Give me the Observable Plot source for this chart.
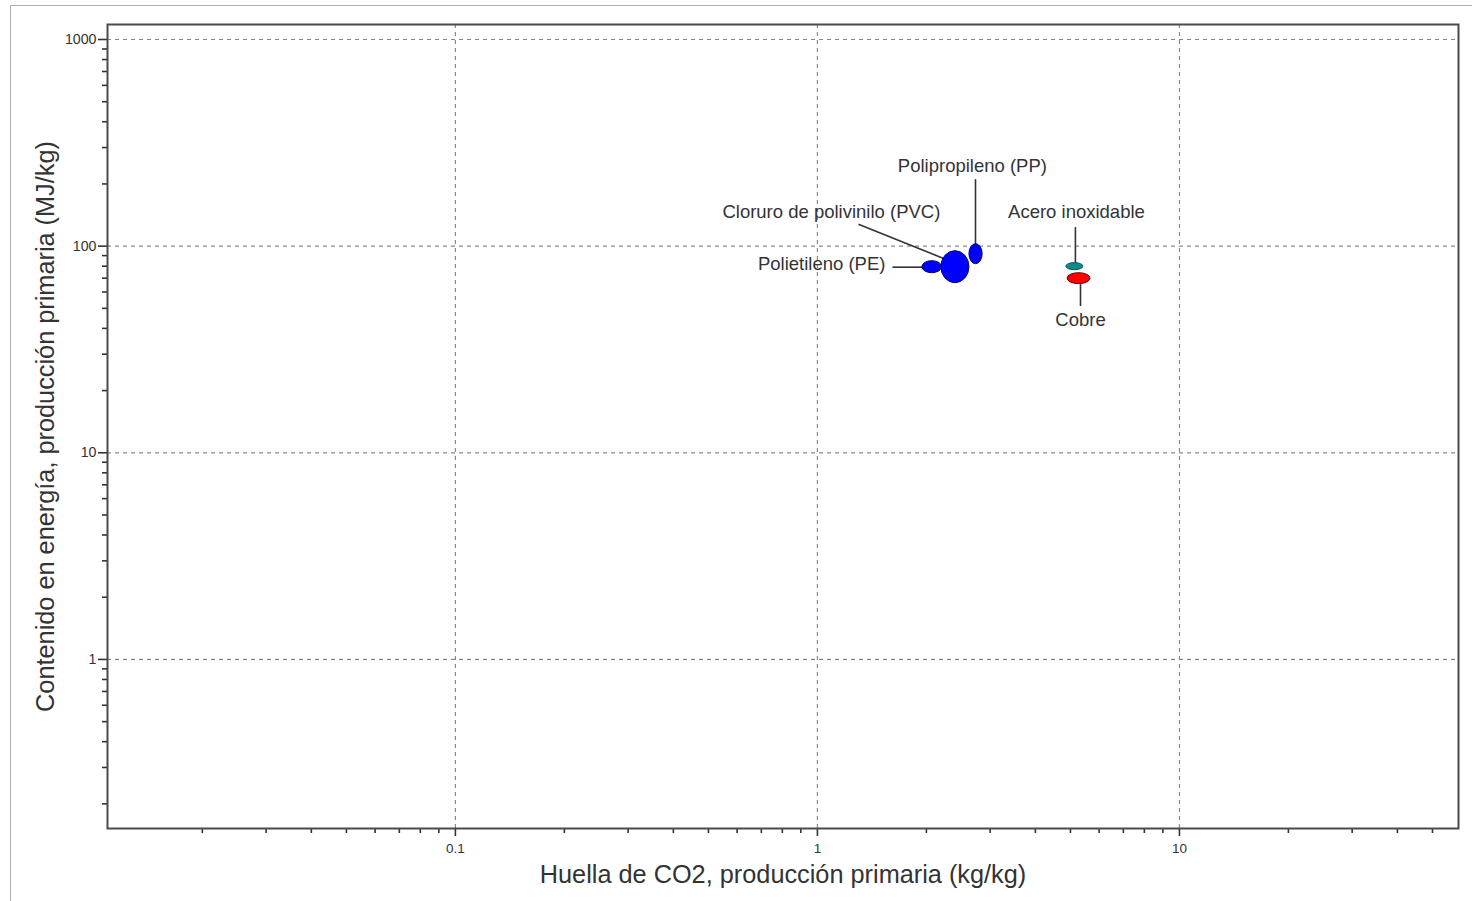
<!DOCTYPE html>
<html>
<head>
<meta charset="utf-8">
<script src="https://cdn.jsdelivr.net/npm/d3@7"></script>
<script src="https://cdn.jsdelivr.net/npm/@observablehq/plot@0.6"></script>
<style>
  html, body { margin: 0; padding: 0; background: #fff; }
  #wrap { position: relative; width: 1472px; height: 901px; overflow: hidden; }
  #border { position: absolute; left: 10px; top: 5px; width: 1480px; height: 920px;
            border-top: 1.5px solid #b0b0b0; border-left: 1.5px solid #b0b0b0; }
  #chart { position: absolute; left: 0; top: 0; }
</style>
</head>
<body>
<div id="wrap"><div id="border"></div><div id="chart"></div></div>
<script>
// ---- Data ----
const materials = ["Polietileno (PE)", "Polipropileno (PP)", "Cloruro de polivinilo (PVC)", "Acero inoxidable", "Cobre"];
const co2Min    = [1.95, 2.63, 2.20, 4.87, 4.91];
const co2Max    = [2.21, 2.86, 2.63, 5.43, 5.68];
const energyMin = [74.0, 81.8, 66.2, 76.5, 65.5];
const energyMax = [84.6, 102.2, 94.6, 82.8, 74.0];

// Label anchors and leader lines (data coordinates)
const labelX  = [1.541, 2.68, 1.093, 5.194, 5.33];
const labelY  = [81.8, 244, 146, 146, 43.8];
const leadX1  = [1.611, 2.733, 1.298, 5.16, 5.33];
const leadY1  = [79.1, 211, 127.7, 123.6, 65.5];
const leadX2  = [1.95, 2.733, 2.257, 5.16, 5.33];
const leadY2  = [79.1, 102, 86.5, 82.7, 51.3];

const xTicks = [0.1, 1, 10];
const yTicks = [1, 10, 100, 1000];
const xTickLabels = ["0.1", "1", "10"];
const yTickLabels = ["1", "10", "100", "1000"];
const xTitle = "Huella de CO2, producción primaria (kg/kg)";
const yTitle = "Contenido en energía, producción primaria (MJ/kg)";

const rows = materials.map((m, i) => ({
  material: m, x1: co2Min[i], x2: co2Max[i], y1: energyMin[i], y2: energyMax[i],
  lx: labelX[i], ly: labelY[i], ax: leadX1[i], ay: leadY1[i], bx: leadX2[i], by: leadY2[i]
}));

function minorTicks(lo, hi) {
  const out = [];
  for (let e = Math.floor(Math.log10(lo)); e <= Math.ceil(Math.log10(hi)); e++) {
    for (let k = 2; k <= 9; k++) {
      const v = k * Math.pow(10, e);
      if (v >= lo && v <= hi) out.push(v);
    }
  }
  return out;
}
const xDomain = [0.01094, 59];
const yDomain = [0.152, 1182];
const xMinor = minorTicks(...xDomain);
const yMinor = minorTicks(...yDomain);

const font = "Liberation Sans, Arial, sans-serif";
const textColor = "#333";

const fillColors = {
  "Polietileno (PE)": "#0000ff",
  "Polipropileno (PP)": "#0000ff",
  "Cloruro de polivinilo (PVC)": "#0000ff",
  "Acero inoxidable": "#108a88",
  "Cobre": "#ff0000"
};
const strokeColors = {
  "Polietileno (PE)": "#000070",
  "Polipropileno (PP)": "#000070",
  "Cloruro de polivinilo (PVC)": "#000070",
  "Acero inoxidable": "#0a5a58",
  "Cobre": "#600000"
};

const plot = Plot.plot({
  width: 1472,
  height: 901,
  marginLeft: 107,
  marginRight: 14,
  marginTop: 24,
  marginBottom: 73,
  style: { fontFamily: font, background: "transparent", color: textColor },
  x: { type: "log", domain: xDomain, axis: null },
  y: { type: "log", domain: yDomain, axis: null },
  marks: [
    Plot.gridX(xTicks, { stroke: "#8a8a8a", strokeOpacity: 1, strokeDasharray: "4,4", strokeWidth: 1.2 }),
    Plot.gridY(yTicks, { stroke: "#8a8a8a", strokeOpacity: 1, strokeDasharray: "4,4", strokeWidth: 1.2 }),
    Plot.axisX(xMinor, { anchor: "bottom", tickSize: 5, tickFormat: () => "", label: null, stroke: "#333", strokeWidth: 1.6 }),
    Plot.axisY(yMinor, { anchor: "left", tickSize: 5, tickFormat: () => "", label: null, stroke: "#333", strokeWidth: 1.6 }),
    Plot.axisX(xTicks, { anchor: "bottom", tickSize: 8, tickFormat: () => "", label: null, stroke: "#333", strokeWidth: 1.6 }),
    Plot.axisY(yTicks, { anchor: "left", tickSize: 9, tickFormat: () => "", label: null, stroke: "#333", strokeWidth: 1.6 }),
    Plot.text(xTicks, { x: d => d, frameAnchor: "bottom", lineAnchor: "middle", dy: 20,
      text: (d, i) => xTickLabels[i], fontSize: 13.5, fill: textColor }),
    Plot.text(yTicks, { y: d => d, frameAnchor: "left", textAnchor: "end", dx: -11,
      text: (d, i) => yTickLabels[i], fontSize: 14.2, fill: textColor }),
    Plot.frame({ stroke: "#4a4a4a", strokeWidth: 2 }),
    Plot.link(rows, { x1: "ax", y1: "ay", x2: "bx", y2: "by", stroke: "#333", strokeWidth: 1.6 }),
    Plot.rect(rows, { x1: "x1", x2: "x2", y1: "y1", y2: "y2",
      fill: d => fillColors[d.material], stroke: d => strokeColors[d.material], strokeWidth: 1 }),
    Plot.text(rows.filter(d => d.material === "Polietileno (PE)"), { x: "lx", y: "ly", text: "material",
      textAnchor: "end", fontSize: 18.5, fill: textColor }),
    Plot.text(rows.filter(d => d.material !== "Polietileno (PE)"), { x: "lx", y: "ly", text: "material",
      textAnchor: "middle", fontSize: 18.5, fill: textColor }),
    Plot.text([xTitle], { frameAnchor: "bottom", lineAnchor: "middle", text: d => d, dy: 46, fontSize: 25.3, fill: textColor }),
    Plot.text([yTitle], { frameAnchor: "left", lineAnchor: "middle", text: d => d, rotate: -90, textAnchor: "middle", dx: -62, fontSize: 25.3, fill: textColor })
  ]
});

// Turn the range rectangles into ellipses
plot.querySelectorAll('g[aria-label="rect"] rect').forEach(r => {
  const w = +r.getAttribute("width"), h = +r.getAttribute("height");
  r.setAttribute("rx", w / 2);
  r.setAttribute("ry", h / 2);
});

document.getElementById("chart").appendChild(plot);
</script>
</body>
</html>
